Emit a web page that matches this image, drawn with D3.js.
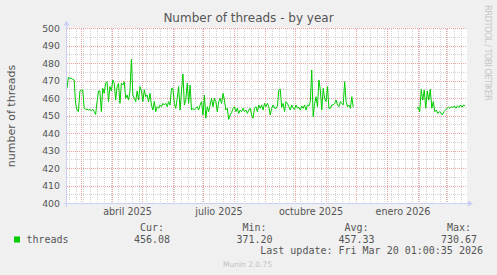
<!DOCTYPE html>
<html>
<head>
<meta charset="utf-8">
<script src="https://cdnjs.cloudflare.com/ajax/libs/d3/7.8.5/d3.min.js"></script>
<style>
    body { margin: 0; background: #f0f0f0; }
    svg { display: block; }
</style>
</head>
<body>
<svg id="chart"></svg>
<script>
(function () {
    'use strict';

    // time window shown (400 days, munin "by year")
    const viewStart = '2025-02-14T12:00:00Z';
    const viewEnd = '2026-03-21T12:00:00Z';

    // first stretch of samples, evenly spread between its start and end
    const firstRunStart = '2025-02-14T12:00:00Z';
    const firstRunEnd = '2025-11-27T18:00:00Z';
    const firstRun = [
        465.8, 472.1, 471.5, 471.5, 471.0, 470.6, 457.2, 453.4, 452.5, 464.3,
        464.9, 464.9, 454.4, 453.8, 453.8, 453.4, 453.8, 453.0, 453.8, 452.5,
        450.9, 458.2, 464.3, 464.3, 452.5, 465.8, 463.0, 468.7, 469.6, 458.2,
        466.8, 464.3, 470.6, 468.7, 459.1, 466.8, 468.7, 457.2, 468.7, 467.7,
        469.6, 460.1, 462.0, 459.1, 464.3, 482.4, 462.0, 460.1, 458.2, 464.3,
        459.1, 466.8, 464.3, 458.2, 465.0, 461.0, 462.0, 458.2, 463.0, 456.3,
        453.4, 458.2, 452.5, 455.3, 454.4, 456.3, 455.3, 457.2, 456.3, 457.2,
        455.3, 458.2, 456.3, 465.8, 465.8, 457.2, 454.4, 460.1, 466.8, 453.4,
        464.3, 474.0, 456.3, 459.1, 468.7, 457.2, 467.7, 453.4, 454.4, 453.4,
        454.4, 455.3, 453.4, 456.3, 458.2, 450.6, 462.0, 448.7, 455.3, 452.5,
        456.3, 460.1, 455.3, 460.1, 458.2, 452.5, 458.2, 460.1, 457.2, 463.0,
        459.1, 453.4, 454.4, 448.1, 450.6, 451.9, 454.4, 455.3, 452.5, 454.4,
        451.5, 453.4, 452.5, 454.4, 452.5, 453.4, 451.5, 453.4, 454.4, 450.6,
        448.7, 454.4, 455.3, 452.5, 456.3, 454.4, 456.3, 453.4, 457.2, 455.3,
        457.2, 455.3, 450.6, 454.4, 456.3, 454.4, 454.4,
        455.7, 464.9, 465.3, 455.0, 457.2, 452.5, 458.2, 457.2, 455.3, 453.4,
        456.3, 454.4, 453.8, 456.3, 454.4, 455.0, 453.4, 455.7, 454.4, 456.3,
        453.4, 456.3, 455.7, 458.2, 476.3, 449.6, 457.2, 461.0, 455.3, 470.6,
        464.9, 453.4, 465.8, 460.1, 458.2, 466.8, 454.4, 454.4, 456.3, 456.3,
        457.2, 459.1, 456.3, 455.3, 458.2, 457.2, 456.3, 469.6, 458.2, 455.3,
        456.3, 454.4, 461.0, 455.0
    ];

    const secondRunStart = '2026-01-30T05:00:00Z';
    const secondRunEnd = '2026-03-19T12:00:00Z';
    const secondRun = [
        454.4, 455.0, 452.5, 465.3, 459.1, 464.9, 454.4, 464.3, 459.1, 465.3,
        454.4, 458.2, 452.5, 453.4, 451.5, 452.5, 451.9, 450.6, 452.5, 453.4,
        454.4, 455.0, 454.4, 455.3, 455.0, 455.7, 454.4, 455.7, 455.0, 456.3,
        455.0, 456.3, 455.7
    ];

    const yTicks = [400, 410, 420, 430, 440, 450, 460, 470, 480, 490, 500];
    const labelMonths = ['2025-04-01', '2025-07-01', '2025-10-01', '2026-01-01'];
    const monthLabels = ['abril 2025', 'julio 2025', 'octubre 2025', 'enero 2026'];

    const statNames = ['Cur:', 'Min:', 'Avg:', 'Max:'];
    const statValues = ['456.08', '371.20', '457.33', '730.67'];
    const seriesName = 'threads';
    const lastUpdate = 'Last update: Fri Mar 20 01:00:35 2026';

    const width = 497;
    const height = 275;
    const plot = { 'left': 67, 'right': 467, 'top': 28.5, 'bottom': 203.5 };
    const fontColor = '#555';
    const axisColor = '#c9cff5';

    const x = d3.scaleUtc()
        .domain([new Date(viewStart), new Date(viewEnd)])
        .range([plot.left, plot.right]);

    const y = d3.scaleLinear()
        .domain([400, 500])
        .range([plot.bottom, plot.top]);

    const crisp = (v) => {
        return Math.round(v - 0.5) + 0.5;
    };

    const svg = d3.select('#chart')
        .attr('width', width)
        .attr('height', height)
        .style('font-family', '"DejaVu Sans", sans-serif');

    svg.append('rect')
        .attr('width', width)
        .attr('height', height)
        .attr('fill', '#f0f0f0');

    svg.append('rect')
        .attr('x', plot.left)
        .attr('y', plot.top)
        .attr('width', plot.right - plot.left)
        .attr('height', plot.bottom - plot.top)
        .attr('fill', '#ffffff');

    // grid
    const grid = svg.append('g')
        .attr('stroke-dasharray', '1,1')
        .attr('shape-rendering', 'crispEdges')
        .attr('stroke-width', 1);

    const weeks = d3.utcMonday.range(x.domain()[0], x.domain()[1]);
    const months = d3.utcMonth.range(x.domain()[0], x.domain()[1]);

    grid.selectAll('.minor-x')
        .data(weeks)
        .enter().append('line')
            .attr('class', 'minor-x')
            .attr('x1', (d) => { return crisp(x(d)); })
            .attr('x2', (d) => { return crisp(x(d)); })
            .attr('y1', plot.top)
            .attr('y2', plot.bottom)
            .attr('stroke', '#d2d2d2');

    grid.selectAll('.minor-y')
        .data(d3.range(405, 500, 10))
        .enter().append('line')
            .attr('class', 'minor-y')
            .attr('x1', plot.left)
            .attr('x2', plot.right)
            .attr('y1', (d) => { return crisp(y(d)); })
            .attr('y2', (d) => { return crisp(y(d)); })
            .attr('stroke', '#d2d2d2');

    grid.selectAll('.major-x')
        .data(months)
        .enter().append('line')
            .attr('class', 'major-x')
            .attr('x1', (d) => { return crisp(x(d)); })
            .attr('x2', (d) => { return crisp(x(d)); })
            .attr('y1', plot.top)
            .attr('y2', plot.bottom)
            .attr('stroke', '#eea3a3');

    grid.selectAll('.major-y')
        .data(yTicks)
        .enter().append('line')
            .attr('class', 'major-y')
            .attr('x1', plot.left)
            .attr('x2', plot.right)
            .attr('y1', (d) => { return crisp(y(d)); })
            .attr('y2', (d) => { return crisp(y(d)); })
            .attr('stroke', '#eea3a3');

    // series
    const spread = (start, end, values) => {
        const t0 = new Date(start).getTime();
        const t1 = new Date(end).getTime();
        const step = (t1 - t0) / (values.length - 1);
        return values.map((v, i) => {
            return { 'date': new Date(t0 + i * step), 'value': v };
        });
    };

    const runs = [
        spread(firstRunStart, firstRunEnd, firstRun),
        spread(secondRunStart, secondRunEnd, secondRun)
    ];

    svg.append('clipPath')
        .attr('id', 'plot-clip')
        .append('rect')
            .attr('x', plot.left)
            .attr('y', plot.top - 1)
            .attr('width', plot.right - plot.left)
            .attr('height', plot.bottom - plot.top + 1);

    const line = d3.line()
        .x((d) => { return x(d.date); })
        .y((d) => { return y(d.value); });

    svg.append('g')
        .attr('clip-path', 'url(#plot-clip)')
        .selectAll('path')
        .data(runs)
        .enter().append('path')
            .attr('d', line)
            .attr('fill', 'none')
            .attr('stroke', '#00cc00')
            .attr('stroke-width', 1);

    // axes
    const axes = svg.append('g')
        .attr('shape-rendering', 'crispEdges')
        .attr('stroke', axisColor);

    axes.append('line')
        .attr('x1', plot.left - 3)
        .attr('x2', plot.right + 2)
        .attr('y1', plot.bottom)
        .attr('y2', plot.bottom);

    axes.append('line')
        .attr('x1', plot.left - 0.5)
        .attr('x2', plot.left - 0.5)
        .attr('y1', plot.bottom + 3)
        .attr('y2', plot.top - 3);

    svg.append('path')
        .attr('d', `M${plot.right + 1},${plot.bottom - 3}L${plot.right + 6},${plot.bottom}L${plot.right + 1},${plot.bottom + 3}Z`)
        .attr('fill', axisColor);

    svg.append('path')
        .attr('d', `M${plot.left - 3.5},${plot.top - 3}L${plot.left - 0.5},${plot.top - 8}L${plot.left + 2.5},${plot.top - 3}Z`)
        .attr('fill', axisColor);

    // tick labels
    svg.append('g')
        .selectAll('text')
        .data(yTicks)
        .enter().append('text')
            .attr('x', plot.left - 7)
            .attr('y', (d) => { return y(d); })
            .attr('dy', '0.36em')
            .attr('text-anchor', 'end')
            .attr('font-size', '9.33px')
            .attr('fill', fontColor)
            .text((d) => { return d; });

    svg.append('g')
        .selectAll('text')
        .data(labelMonths)
        .enter().append('text')
            .attr('x', (d) => {
                const m = new Date(d + 'T00:00:00Z');
                return (x(m) + x(d3.utcMonth.offset(m, 1))) / 2;
            })
            .attr('y', 215)
            .attr('text-anchor', 'middle')
            .attr('font-size', '9.6px')
            .attr('fill', fontColor)
            .text((d, i) => { return monthLabels[i]; });

    // titles
    svg.append('text')
        .attr('x', 248.5)
        .attr('y', 22)
        .attr('text-anchor', 'middle')
        .attr('font-size', '12px')
        .attr('fill', fontColor)
        .text('Number of threads - by year');

    svg.append('text')
        .attr('transform', `translate(15, ${(plot.top + plot.bottom) / 2}) rotate(-90)`)
        .attr('text-anchor', 'middle')
        .attr('font-size', '11px')
        .attr('fill', fontColor)
        .text('number of threads');

    svg.append('text')
        .attr('transform', 'translate(484.5, 5) rotate(90)')
        .attr('font-size', '8.5px')
        .attr('textLength', 96)
        .attr('lengthAdjust', 'spacing')
        .attr('fill', '#c8c8c8')
        .text('RRDTOOL / TOBI OETIKER');

    // legend
    const mono = '"DejaVu Sans Mono", monospace';

    svg.append('rect')
        .attr('x', 14)
        .attr('y', 236.5)
        .attr('width', 6)
        .attr('height', 6)
        .attr('fill', '#00cc00');

    svg.append('text')
        .attr('x', 26.5)
        .attr('y', 242.7)
        .attr('font-family', mono)
        .attr('font-size', '10px')
        .attr('fill', fontColor)
        .text(seriesName);

    const statEnds = [170, 272.5, 374.5, 477];

    svg.append('g')
        .selectAll('text')
        .data(statNames)
        .enter().append('text')
            .attr('x', (d, i) => { return statEnds[i] - 6; })
            .attr('y', 231)
            .attr('text-anchor', 'end')
            .attr('font-family', mono)
            .attr('font-size', '10px')
            .attr('fill', fontColor)
            .text((d) => { return d; });

    svg.append('g')
        .selectAll('text')
        .data(statValues)
        .enter().append('text')
            .attr('x', (d, i) => { return statEnds[i]; })
            .attr('y', 242.7)
            .attr('text-anchor', 'end')
            .attr('font-family', mono)
            .attr('font-size', '10px')
            .attr('fill', fontColor)
            .text((d) => { return d; });

    svg.append('text')
        .attr('x', 483)
        .attr('y', 254.3)
        .attr('text-anchor', 'end')
        .attr('font-family', mono)
        .attr('font-size', '10px')
        .attr('fill', fontColor)
        .text(lastUpdate);

    svg.append('text')
        .attr('x', 247.5)
        .attr('y', 267)
        .attr('text-anchor', 'middle')
        .attr('font-size', '7.5px')
        .attr('fill', '#c0c0c0')
        .text('Munin 2.0.75');
})();
</script>
</body>
</html>
